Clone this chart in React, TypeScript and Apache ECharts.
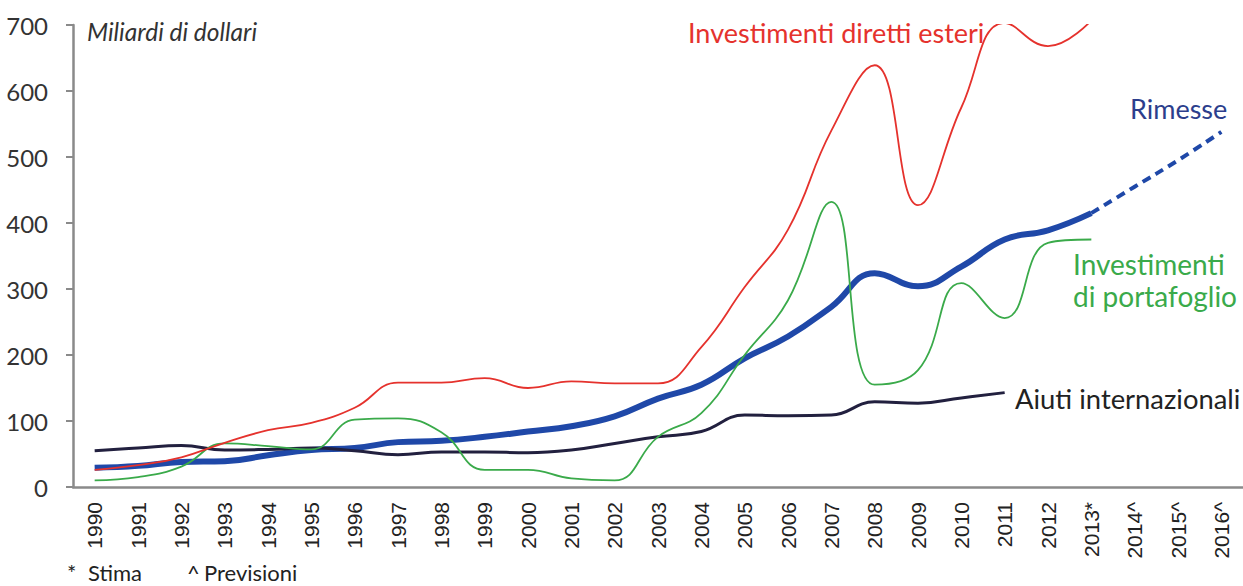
import React, { useEffect, useRef } from "react";
import * as echarts from "echarts";

const years = ["1990","1991","1992","1993","1994","1995","1996","1997","1998","1999","2000","2001","2002","2003","2004","2005","2006","2007","2008","2009","2010","2011","2012","2013*","2014^","2015^","2016^"];
const fdi = [26,33,45,67,86,97,120,158,158,165,150,160,157,157,212,303,390,540,639,427,575,703,668,707];
const remittances = [29,32,38,39,48,56,59,68,70,76,84,92,107,134,155,195,228,273,324,304,334,375,389,415];
const remittancesForecast = [null,null,null,null,null,null,null,null,null,null,null,null,null,null,null,null,null,null,null,null,null,null,null,415,455,495,538];
const portfolio = [10,15,31,66,62,57,102,104,83,26,26,13,10,76,112,200,283,432,155,177,309,256,370,375];
const aid = [55,59,63,56,57,59,55,49,53,53,52,56,66,76,84,109,108,109,129,127,135,143];
const yTicks = { min: 0, max: 700, interval: 100 };

const RED = "#e5322d";
const GREEN = "#3aaa4a";
const BLUE = "#1f48a8";
const NAVY = "#22203f";
const AXIS = "#8a8a8a";
const LABEL_FONT = "Lato";

export default function App() {
  const ref = useRef<HTMLDivElement>(null);
  useEffect(() => {
    if (!ref.current) return;
    const chart = echarts.init(ref.current, null, { renderer: "svg" });
    const txt = (text: string, x: number, y: number, fill: string, size = 24, extra: any = {}) => ({
      type: "text",
      x,
      y,
      style: {
        text,
        fill,
        fontSize: size,
        fontFamily: LABEL_FONT,
        verticalAlign: "middle",
        align: "left",
        ...extra,
      },
    });
    chart.setOption({
      animation: false,
      backgroundColor: "#ffffff",
      grid: { left: 73, top: 25, height: 462, width: 1177.2, containLabel: false },
      xAxis: {
        type: "category",
        data: years,
        boundaryGap: true,
        axisLine: { lineStyle: { color: AXIS, width: 2.5 } },
        axisTick: { alignWithLabel: true, length: 6, lineStyle: { color: AXIS, width: 2 } },
        axisLabel: {
          rotate: 90,
          interval: 0,
          margin: 15,
          fontSize: 21,
          fontFamily: "Liberation Sans",
          color: "#222",
        },
        splitLine: { show: false },
      },
      yAxis: {
        type: "value",
        min: yTicks.min,
        max: yTicks.max,
        interval: yTicks.interval,
        axisLine: { show: true, lineStyle: { color: AXIS, width: 2.5 } },
        axisTick: { show: true, length: 7, lineStyle: { color: AXIS, width: 2 } },
        axisLabel: { margin: 25, fontSize: 24, fontFamily: "Lato", color: "#333" },
        splitLine: { show: false },
      },
      series: [
        {
          type: "line",
          name: "Rimesse",
          data: remittances,
          smooth: 0.45,
          symbol: "none",
          lineStyle: { color: BLUE, width: 6 },
          z: 2,
        },
        {
          type: "line",
          name: "Rimesse previsioni",
          data: remittancesForecast,
          smooth: 0.45,
          symbol: "none",
          lineStyle: { color: BLUE, width: 4, type: [9, 6] },
          z: 2,
        },
        {
          type: "line",
          name: "Aiuti internazionali",
          data: aid,
          smooth: 0.45,
          symbol: "none",
          lineStyle: { color: NAVY, width: 3 },
          z: 3,
        },
        {
          type: "line",
          name: "Investimenti di portafoglio",
          data: portfolio,
          smooth: 0.45,
          symbol: "none",
          lineStyle: { color: GREEN, width: 1.8 },
          z: 4,
        },
        {
          type: "line",
          name: "Investimenti diretti esteri",
          data: fdi,
          smooth: 0.45,
          symbol: "none",
          lineStyle: { color: RED, width: 1.8 },
          z: 5,
        },
      ],
      graphic: [
        txt("Miliardi di dollari", 87, 31, "#333", 24.5, { fontStyle: "italic" }),
        txt("Investimenti diretti esteri", 688, 32, RED, 27),
        txt("Rimesse", 1130, 108, "#2c3e8c", 27),
        txt("Investimenti", 1073, 264, GREEN, 28),
        txt("di portafoglio", 1073, 296, GREEN, 28),
        txt("Aiuti internazionali", 1015, 398, "#222", 27.4),
        txt("*", 67, 572, "#222", 22),
        txt("Stima", 88, 572, "#222", 22),
        txt("^", 187, 572, "#222", 22),
        txt("Previsioni", 204, 572, "#222", 22),
      ],
    });
    return () => chart.dispose();
  }, []);
  return (
    <div
      ref={ref}
      style={{ position: "absolute", left: 0, top: 0, width: 1243, height: 586 }}
    />
  );
}
